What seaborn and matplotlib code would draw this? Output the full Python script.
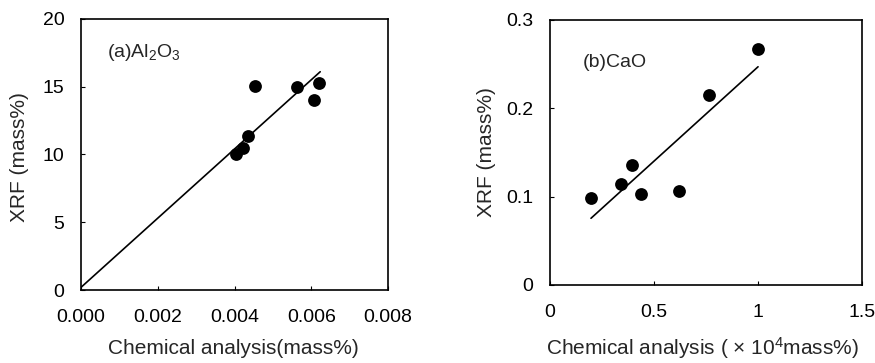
import numpy as np
import matplotlib
matplotlib.use("Agg")
import matplotlib.pyplot as plt
import seaborn as sns

# (a) Al2O3 : chemical analysis (mass%) vs XRF (mass%)
al_chem = [0.00404, 0.00421, 0.00436, 0.00452, 0.00562, 0.00607, 0.00621]
al_xrf = [10.0, 10.45, 11.35, 15.05, 15.0, 14.0, 15.3]
al_fit_x = [0.0, 0.00623]
al_fit_y = [0.2, 16.1]

# (b) CaO : chemical analysis (x10^4 mass%) vs XRF (mass%)
ca_chem = [0.196, 0.342, 0.395, 0.435, 0.621, 0.762, 1.0]
ca_xrf = [0.0985, 0.114, 0.136, 0.103, 0.106, 0.215, 0.2675]
ca_fit_x = [0.197, 1.0]
ca_fit_y = [0.0755, 0.247]

al_xticks = [0.000, 0.002, 0.004, 0.006, 0.008]
al_xticklabels = ["0.000", "0.002", "0.004", "0.006", "0.008"]
al_yticks = [0, 5, 10, 15, 20]
ca_xticks = [0, 0.5, 1, 1.5]
ca_xticklabels = ["0", "0.5", "1", "1.5"]
ca_yticks = [0, 0.1, 0.2, 0.3]
ca_yticklabels = ["0", "0.1", "0.2", "0.3"]

sns.set_style("ticks")
plt.rcParams['font.family'] = ['Liberation Sans', 'Noto Sans CJK JP', 'DejaVu Sans']
plt.rcParams['mathtext.fontset'] = 'custom'
plt.rcParams['mathtext.rm'] = 'Liberation Sans'
plt.rcParams['mathtext.it'] = 'Liberation Sans'

fig = plt.figure(figsize=(8.75, 3.63), dpi=100)
ax1 = fig.add_axes([0.0926, 0.201, 0.351, 0.747])
ax2 = fig.add_axes([0.6286, 0.215, 0.3566, 0.730])

# panel (a)
sns.scatterplot(x=al_chem, y=al_xrf, ax=ax1, color="black", s=85,
                edgecolor="black", linewidth=0, zorder=3)
sns.lineplot(x=al_fit_x, y=al_fit_y, ax=ax1, color="black", linewidth=1.2)
ax1.set_xlim(0, 0.008)
ax1.set_ylim(0, 20)
ax1.set_xticks(al_xticks)
ax1.set_xticklabels(al_xticklabels)
ax1.set_yticks(al_yticks)
ax1.text(0.085, 0.875, "(a)Al$_2$O$_3$", transform=ax1.transAxes,
         fontsize=14, va="center", ha="left")
ax1.set_xlabel("Chemical analysis(mass%)", fontsize=15, va="center")
ax1.set_ylabel("XRF (mass%)", fontsize=15, va="center")
ax1.xaxis.set_label_coords(0.495, -0.214)
ax1.yaxis.set_label_coords(-0.199, 0.49)

# panel (b)
sns.scatterplot(x=ca_chem, y=ca_xrf, ax=ax2, color="black", s=85,
                edgecolor="black", linewidth=0, zorder=3)
sns.lineplot(x=ca_fit_x, y=ca_fit_y, ax=ax2, color="black", linewidth=1.2)
ax2.set_xlim(0, 1.5)
ax2.set_ylim(0, 0.3)
ax2.set_xticks(ca_xticks)
ax2.set_xticklabels(ca_xticklabels)
ax2.set_yticks(ca_yticks)
ax2.set_yticklabels(ca_yticklabels)
ax2.text(0.105, 0.84, "(b)CaO", transform=ax2.transAxes,
         fontsize=14, va="center", ha="left")
ax2.set_xlabel("Chemical analysis ( × 10$^4$mass%)", fontsize=15, va="center")
ax2.set_ylabel("XRF (mass%)", fontsize=15, va="center")
ax2.xaxis.set_label_coords(0.49, -0.238)
ax2.yaxis.set_label_coords(-0.202, 0.5)

for ax in (ax1, ax2):
    for sp in ax.spines.values():
        sp.set_visible(True)
        sp.set_color("black")
        sp.set_linewidth(1.2)
    ax.tick_params(axis="x", direction="in", length=3, width=0.8,
                   labelsize=14, pad=14, colors="black")
    ax.tick_params(axis="y", direction="in", length=3, width=0.8,
                   labelsize=14, pad=12, colors="black")
    ax.grid(False)

fig.savefig("out.png", dpi=100)
